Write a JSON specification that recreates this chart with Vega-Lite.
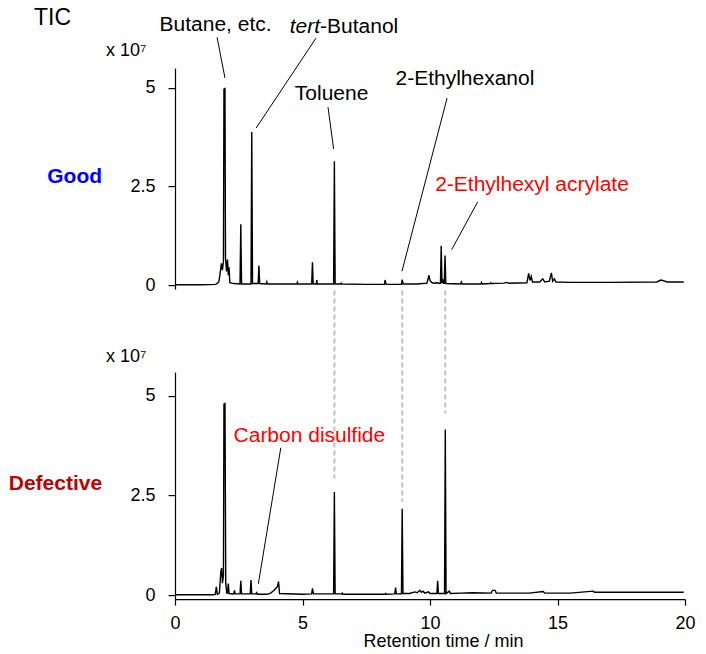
{
  "$schema": "https://vega.github.io/schema/vega-lite/v6.json",
  "background": "white",
  "padding": {"left": 8, "top": 6.1, "right": 5, "bottom": 5},
  "bounds": "flush",
  "spacing": 83,
  "config": {
    "font": "Liberation Sans",
    "view": {"stroke": null},
    "axis": {"grid": false, "domainColor": "black", "tickColor": "black", "labelColor": "black", "titleColor": "black", "domainWidth": 1.2, "tickWidth": 1.2, "labelFontSize": 18, "titleFontSize": 18, "titleFontWeight": "normal", "labelFlush": false}
  },
  "datasets": {
    "good": [
      {"t": 0, "v": 0.01}, {"t": 1.0, "v": 0.01}, {"t": 1.6, "v": 0.02}, {"t": 1.72, "v": 0.08}, {"t": 1.78, "v": 0.35}, {"t": 1.82, "v": 0.55}, {"t": 1.86, "v": 0.38}, {"t": 1.9, "v": 0.6}, {"t": 1.92, "v": 4.98}, {"t": 1.94, "v": 4.7}, {"t": 1.96, "v": 5.0}, {"t": 1.98, "v": 0.7}, {"t": 2.02, "v": 0.35}, {"t": 2.06, "v": 0.65}, {"t": 2.09, "v": 0.25}, {"t": 2.12, "v": 0.45}, {"t": 2.15, "v": 0.06}, {"t": 2.3, "v": 0.04}, {"t": 2.55, "v": 0.03}, {"t": 2.58, "v": 1.54}, {"t": 2.61, "v": 0.03}, {"t": 2.98, "v": 0.03}, {"t": 3.01, "v": 3.88}, {"t": 3.04, "v": 0.04}, {"t": 3.26, "v": 0.04}, {"t": 3.29, "v": 0.5}, {"t": 3.32, "v": 0.04}, {"t": 3.58, "v": 0.03}, {"t": 3.6, "v": 0.08}, {"t": 3.62, "v": 0.03}, {"t": 4.78, "v": 0.03}, {"t": 4.8, "v": 0.07}, {"t": 4.82, "v": 0.03}, {"t": 5.36, "v": 0.03}, {"t": 5.39, "v": 0.58}, {"t": 5.42, "v": 0.03}, {"t": 5.54, "v": 0.03}, {"t": 5.56, "v": 0.13}, {"t": 5.58, "v": 0.03}, {"t": 6.22, "v": 0.03}, {"t": 6.25, "v": 3.14}, {"t": 6.28, "v": 0.03}, {"t": 6.5, "v": 0.03}, {"t": 6.52, "v": 0.05}, {"t": 6.54, "v": 0.03}, {"t": 7.5, "v": 0.02}, {"t": 8.21, "v": 0.02}, {"t": 8.24, "v": 0.13}, {"t": 8.28, "v": 0.02}, {"t": 8.88, "v": 0.02}, {"t": 8.91, "v": 0.14}, {"t": 8.95, "v": 0.03}, {"t": 9.5, "v": 0.03}, {"t": 9.88, "v": 0.05}, {"t": 9.96, "v": 0.25}, {"t": 10.0, "v": 0.12}, {"t": 10.06, "v": 0.07}, {"t": 10.15, "v": 0.05}, {"t": 10.25, "v": 0.06}, {"t": 10.35, "v": 0.05}, {"t": 10.41, "v": 0.05}, {"t": 10.44, "v": 1.0}, {"t": 10.47, "v": 0.05}, {"t": 10.5, "v": 0.15}, {"t": 10.53, "v": 0.05}, {"t": 10.56, "v": 0.05}, {"t": 10.59, "v": 0.75}, {"t": 10.62, "v": 0.04}, {"t": 11.2, "v": 0.03}, {"t": 11.23, "v": 0.08}, {"t": 11.26, "v": 0.03}, {"t": 11.99, "v": 0.03}, {"t": 12.02, "v": 0.07}, {"t": 12.05, "v": 0.03}, {"t": 12.36, "v": 0.04}, {"t": 12.38, "v": 0.06}, {"t": 12.4, "v": 0.04}, {"t": 12.9, "v": 0.05}, {"t": 13.0, "v": 0.07}, {"t": 13.1, "v": 0.05}, {"t": 13.8, "v": 0.06}, {"t": 13.87, "v": 0.3}, {"t": 13.92, "v": 0.12}, {"t": 13.97, "v": 0.22}, {"t": 14.02, "v": 0.08}, {"t": 14.3, "v": 0.08}, {"t": 14.42, "v": 0.16}, {"t": 14.5, "v": 0.08}, {"t": 14.68, "v": 0.1}, {"t": 14.76, "v": 0.31}, {"t": 14.81, "v": 0.1}, {"t": 14.88, "v": 0.16}, {"t": 14.94, "v": 0.08}, {"t": 15.5, "v": 0.07}, {"t": 17.0, "v": 0.07}, {"t": 18.9, "v": 0.08}, {"t": 19.05, "v": 0.13}, {"t": 19.12, "v": 0.12}, {"t": 19.3, "v": 0.08}, {"t": 19.95, "v": 0.08}
    ],
    "defective": [
      {"t": 0, "v": 0.01}, {"t": 1.5, "v": 0.01}, {"t": 1.58, "v": 0.02}, {"t": 1.62, "v": 0.21}, {"t": 1.66, "v": 0.02}, {"t": 1.74, "v": 0.05}, {"t": 1.8, "v": 0.6}, {"t": 1.83, "v": 0.68}, {"t": 1.86, "v": 0.3}, {"t": 1.9, "v": 0.5}, {"t": 1.92, "v": 4.81}, {"t": 1.94, "v": 4.5}, {"t": 1.96, "v": 4.83}, {"t": 1.99, "v": 0.3}, {"t": 2.03, "v": 0.05}, {"t": 2.06, "v": 0.05}, {"t": 2.09, "v": 0.29}, {"t": 2.12, "v": 0.04}, {"t": 2.3, "v": 0.03}, {"t": 2.33, "v": 0.12}, {"t": 2.36, "v": 0.03}, {"t": 2.55, "v": 0.03}, {"t": 2.58, "v": 0.36}, {"t": 2.61, "v": 0.03}, {"t": 2.95, "v": 0.03}, {"t": 2.98, "v": 0.38}, {"t": 3.01, "v": 0.03}, {"t": 3.17, "v": 0.03}, {"t": 3.2, "v": 0.06}, {"t": 3.23, "v": 0.02}, {"t": 3.6, "v": 0.02}, {"t": 3.75, "v": 0.05}, {"t": 3.9, "v": 0.13}, {"t": 4.02, "v": 0.22}, {"t": 4.06, "v": 0.34}, {"t": 4.1, "v": 0.04}, {"t": 5.0, "v": 0.02}, {"t": 5.36, "v": 0.03}, {"t": 5.39, "v": 0.17}, {"t": 5.43, "v": 0.03}, {"t": 6.22, "v": 0.03}, {"t": 6.25, "v": 2.59}, {"t": 6.28, "v": 0.03}, {"t": 6.54, "v": 0.03}, {"t": 6.56, "v": 0.05}, {"t": 6.58, "v": 0.02}, {"t": 8.24, "v": 0.02}, {"t": 8.26, "v": 0.04}, {"t": 8.28, "v": 0.02}, {"t": 8.62, "v": 0.03}, {"t": 8.65, "v": 0.19}, {"t": 8.68, "v": 0.03}, {"t": 8.88, "v": 0.03}, {"t": 8.91, "v": 2.17}, {"t": 8.94, "v": 0.04}, {"t": 9.2, "v": 0.04}, {"t": 9.4, "v": 0.08}, {"t": 9.5, "v": 0.06}, {"t": 9.6, "v": 0.12}, {"t": 9.66, "v": 0.07}, {"t": 9.72, "v": 0.1}, {"t": 9.8, "v": 0.05}, {"t": 9.94, "v": 0.08}, {"t": 10.0, "v": 0.04}, {"t": 10.27, "v": 0.04}, {"t": 10.3, "v": 0.36}, {"t": 10.33, "v": 0.04}, {"t": 10.57, "v": 0.04}, {"t": 10.6, "v": 4.16}, {"t": 10.63, "v": 0.04}, {"t": 10.76, "v": 0.1}, {"t": 10.8, "v": 0.04}, {"t": 11.22, "v": 0.05}, {"t": 11.66, "v": 0.06}, {"t": 12.4, "v": 0.05}, {"t": 12.45, "v": 0.12}, {"t": 12.55, "v": 0.12}, {"t": 12.6, "v": 0.05}, {"t": 13.88, "v": 0.05}, {"t": 14.44, "v": 0.09}, {"t": 14.5, "v": 0.05}, {"t": 15.5, "v": 0.05}, {"t": 16.4, "v": 0.1}, {"t": 16.45, "v": 0.07}, {"t": 18.0, "v": 0.07}, {"t": 19.95, "v": 0.07}
    ]
  },
  "vconcat": [
    {
      "width": 510,
      "height": 221,
      "layer": [
        {
          "data": {"name": "good"},
          "mark": {"type": "line", "color": "black", "strokeWidth": 1.4},
          "encoding": {
            "x": {"field": "t", "type": "quantitative", "scale": {"domain": [0, 20], "nice": false, "zero": false}, "axis": null},
            "y": {"field": "v", "type": "quantitative", "scale": {"domain": [-0.1, 5.5], "nice": false, "zero": false},
              "axis": {"values": [0, 2.5, 5], "labelExpr": "toString(datum.value)", "tickSize": 7, "labelPadding": 13, "title": "x 10⁷", "titleAngle": 0, "titleAlign": "right", "titleBaseline": "alphabetic", "titleX": -29, "titleY": -13}}
          }
        },
        {
          "data": {"values": [
            {"t1": 1.65, "v1": 6.28, "t2": 1.96, "v2": 5.25},
            {"t1": 5.53, "v1": 6.26, "t2": 3.18, "v2": 3.98},
            {"t1": 6.0, "v1": 4.51, "t2": 6.22, "v2": 3.45},
            {"t1": 10.67, "v1": 4.74, "t2": 8.9, "v2": 0.35},
            {"t1": 11.87, "v1": 2.11, "t2": 10.85, "v2": 0.9}
          ]},
          "mark": {"type": "rule", "color": "black", "strokeWidth": 1},
          "encoding": {
            "x": {"field": "t1", "type": "quantitative", "axis": null},
            "x2": {"field": "t2"},
            "y": {"field": "v1", "type": "quantitative", "title": "x 10⁷"},
            "y2": {"field": "v2"}
          }
        },
        {
          "data": {"values": [
            {"label": "Butane, etc.", "t": 1.59, "v": 6.45},
            {"label": "Toluene", "t": 6.14, "v": 4.69},
            {"label": "2-Ethylhexanol", "t": 11.37, "v": 5.07}
          ]},
          "mark": {"type": "text", "fontSize": 21, "color": "black", "align": "center", "baseline": "alphabetic"},
          "encoding": {
            "x": {"field": "t", "type": "quantitative", "axis": null},
            "y": {"field": "v", "type": "quantitative", "title": "x 10⁷"},
            "text": {"field": "label"}
          }
        },
        {
          "data": {"values": [{"label": "tert", "t": 5.69, "v": 6.39}]},
          "mark": {"type": "text", "fontSize": 21, "fontStyle": "italic", "color": "black", "align": "right", "baseline": "alphabetic"},
          "encoding": {
            "x": {"field": "t", "type": "quantitative", "axis": null},
            "y": {"field": "v", "type": "quantitative", "title": "x 10⁷"},
            "text": {"field": "label"}
          }
        },
        {
          "data": {"values": [{"label": "-Butanol", "t": 5.69, "v": 6.39}]},
          "mark": {"type": "text", "fontSize": 21, "color": "black", "align": "left", "baseline": "alphabetic"},
          "encoding": {
            "x": {"field": "t", "type": "quantitative", "axis": null},
            "y": {"field": "v", "type": "quantitative", "title": "x 10⁷"},
            "text": {"field": "label"}
          }
        },
        {
          "data": {"values": [{"label": "2-Ethylhexyl acrylate", "t": 14.0, "v": 2.38}]},
          "mark": {"type": "text", "fontSize": 21, "color": "#ff0000", "align": "center", "baseline": "alphabetic"},
          "encoding": {
            "x": {"field": "t", "type": "quantitative", "axis": null},
            "y": {"field": "v", "type": "quantitative", "title": "x 10⁷"},
            "text": {"field": "label"}
          }
        },
        {
          "data": {"values": [{"label": "Good", "t": -2.86, "v": 2.74}]},
          "mark": {"type": "text", "fontSize": 21, "fontWeight": "bold", "color": "#0000ff", "align": "right", "baseline": "middle"},
          "encoding": {
            "x": {"field": "t", "type": "quantitative", "axis": null},
            "y": {"field": "v", "type": "quantitative", "title": "x 10⁷"},
            "text": {"field": "label"}
          }
        },
        {
          "data": {"values": [{"label": "TIC", "t": -5.53, "v": 6.6}]},
          "mark": {"type": "text", "fontSize": 23, "color": "black", "align": "left", "baseline": "alphabetic"},
          "encoding": {
            "x": {"field": "t", "type": "quantitative", "axis": null},
            "y": {"field": "v", "type": "quantitative", "title": "x 10⁷"},
            "text": {"field": "label"}
          }
        }
      ]
    },
    {
      "width": 510,
      "height": 227,
      "layer": [
        {
          "data": {"name": "defective"},
          "mark": {"type": "line", "color": "black", "strokeWidth": 1.4},
          "encoding": {
            "x": {"field": "t", "type": "quantitative", "scale": {"domain": [0, 20], "nice": false, "zero": false},
              "axis": {"values": [0, 5, 10, 15, 20], "tickSize": 6, "labelPadding": 9, "title": "Retention time / min", "titleX": 268, "titleY": 47.5, "titleBaseline": "alphabetic", "titleAlign": "center"}},
            "y": {"field": "v", "type": "quantitative", "scale": {"domain": [-0.1, 5.6], "nice": false, "zero": false},
              "axis": {"values": [0, 2.5, 5], "labelExpr": "toString(datum.value)", "tickSize": 7, "labelPadding": 13, "title": "x 10⁷", "titleAngle": 0, "titleAlign": "right", "titleBaseline": "alphabetic", "titleX": -29, "titleY": -11}}
          }
        },
        {
          "data": {"values": [
            {"t": 6.25, "v1": 7.65, "v2": 2.93},
            {"t": 8.91, "v1": 7.65, "v2": 2.34},
            {"t": 10.6, "v1": 7.65, "v2": 4.56}
          ]},
          "mark": {"type": "rule", "color": "#c0c0c0", "strokeWidth": 2, "strokeDash": [5, 3]},
          "encoding": {
            "x": {"field": "t", "type": "quantitative", "title": "Retention time / min"},
            "y": {"field": "v1", "type": "quantitative", "title": "x 10⁷"},
            "y2": {"field": "v2"}
          }
        },
        {
          "data": {"values": [{"t1": 4.15, "v1": 3.7, "t2": 3.27, "v2": 0.29}]},
          "mark": {"type": "rule", "color": "black", "strokeWidth": 1},
          "encoding": {
            "x": {"field": "t1", "type": "quantitative", "title": "Retention time / min"},
            "x2": {"field": "t2"},
            "y": {"field": "v1", "type": "quantitative", "title": "x 10⁷"},
            "y2": {"field": "v2"}
          }
        },
        {
          "data": {"values": [{"label": "Carbon disulfide", "t": 5.27, "v": 3.84}]},
          "mark": {"type": "text", "fontSize": 21, "color": "#ff0000", "align": "center", "baseline": "alphabetic"},
          "encoding": {
            "x": {"field": "t", "type": "quantitative", "title": "Retention time / min"},
            "y": {"field": "v", "type": "quantitative", "title": "x 10⁷"},
            "text": {"field": "label"}
          }
        },
        {
          "data": {"values": [{"label": "Defective", "t": -2.86, "v": 2.78}]},
          "mark": {"type": "text", "fontSize": 21, "fontWeight": "bold", "color": "#c00000", "align": "right", "baseline": "middle"},
          "encoding": {
            "x": {"field": "t", "type": "quantitative", "title": "Retention time / min"},
            "y": {"field": "v", "type": "quantitative", "title": "x 10⁷"},
            "text": {"field": "label"}
          }
        }
      ]
    }
  ]
}
